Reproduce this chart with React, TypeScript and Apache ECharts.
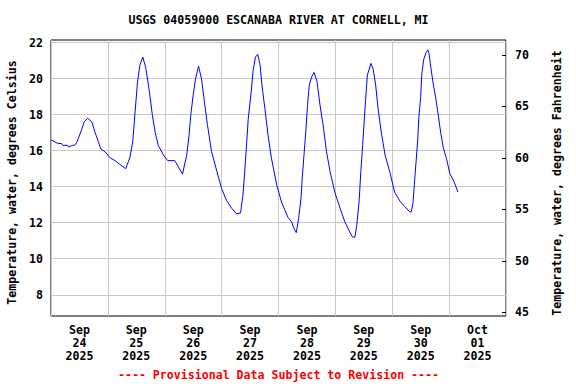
import React, { useEffect, useRef } from "react";
import * as echarts from "echarts";

// Elapsed hours since 2025-09-24 00:00 and water temperature (deg C)
const elapsedHours = [
  0, 3, 4.5, 5, 7, 7.5, 9, 10, 11, 13, 14, 15.5, 17.25, 18.5, 20, 21, 22.75,
  25, 27, 29, 31.5, 33.25, 34.5, 35.5, 36.5, 37.5, 38.75, 40, 41.5, 42.75, 44, 45.25, 47.5,
  49.25, 52.25, 53.75, 55.5, 57.25, 58.25, 59, 60, 61, 62.25, 63.5, 64.75, 66, 67.75, 70,
  72, 74, 76.25, 78.25, 80, 81, 81.75, 82.5, 83.25, 84.5, 85.25, 86.25, 87.25, 88.25, 89,
  90.25, 91.75, 93, 95.25, 97.25, 100, 101.5, 102.5, 103.5, 104.5, 105.5, 106, 106.75,
  107.5, 108.25, 109, 110, 111, 112.25, 113.5, 115, 116.25, 117.75, 119.75, 122, 124, 126,
  127.25, 128.25, 129, 130, 130.75, 131.5, 132.25, 133, 133.5, 135, 136, 137, 138, 139.5,
  141, 143, 145, 147.25, 149.25, 151.5, 152, 152.75, 153.25, 154, 154.75, 155.25, 156,
  156.5, 157.25, 158.25, 159, 159.5, 160.25, 161.25, 162.5, 163.5, 164.5, 165.5, 167,
  168.25, 170, 171.75,
];
const tempC = [
  16.6, 16.4, 16.4, 16.3, 16.3, 16.2, 16.3, 16.3, 16.5, 17.2, 17.6, 17.8, 17.6, 17.05, 16.5, 16.1, 15.95,
  15.6, 15.45, 15.25, 15.0, 15.6, 16.5, 18.2, 19.8, 20.75, 21.2, 20.6, 19.3, 18.0, 17.0, 16.3, 15.75,
  15.45, 15.45, 15.1, 14.7, 15.75, 16.85, 18.0, 19.1, 20.0, 20.7, 20.0, 18.7, 17.45, 15.95, 14.85,
  13.9, 13.25, 12.8, 12.5, 12.55, 13.55, 14.85, 16.3, 17.8, 19.3, 20.4, 21.2, 21.35, 20.75, 19.65,
  18.35, 16.7, 15.6, 14.1, 13.15, 12.3, 12.05, 11.7, 11.45, 12.25, 13.35, 14.45, 15.75,
  17.05, 18.55, 19.65, 20.1, 20.35, 19.85, 18.55, 17.25, 15.95, 14.85, 13.7, 12.8, 12.05, 11.5,
  11.2, 11.2, 11.85, 13.15, 14.85, 16.3, 17.8, 19.3, 20.2, 20.85, 20.5, 19.65, 18.35, 16.9,
  15.75, 14.8, 13.7, 13.2, 12.9, 12.6, 12.6, 13.1, 14.0, 15.3, 16.6, 17.9, 19.0,
  20.3, 21.05, 21.45, 21.6, 21.4, 20.65, 19.75, 18.8, 17.9, 16.95, 16.2, 15.5,
  14.75, 14.3, 13.7,
];

const dayLabels = [
  "Sep\n24\n2025", "Sep\n25\n2025", "Sep\n26\n2025", "Sep\n27\n2025",
  "Sep\n28\n2025", "Sep\n29\n2025", "Sep\n30\n2025", "Oct\n01\n2025",
];
const dayBoundaryHours = [0, 24, 48, 72, 96, 120, 144, 168, 192];
const dayLabelHours = [12, 36, 60, 84, 108, 132, 156, 180];
const celsiusTicks = [8, 10, 12, 14, 16, 18, 20, 22];
const fahrenheitTicks = [45, 50, 55, 60, 65, 70];

const titleText = "USGS 04059000 ESCANABA RIVER AT CORNELL, MI";
const footerText = "---- Provisional Data Subject to Revision ----";
const leftName = "Temperature, water, degrees Celsius";
const rightName = "Temperature, water, degrees Fahrenheit";

const FONT = "'DejaVu Sans Mono', monospace";

export default function App() {
  const ref = useRef<HTMLDivElement>(null);
  useEffect(() => {
    if (!ref.current) return;
    const chart = echarts.init(ref.current, undefined, { renderer: "svg" });
    const seriesData = elapsedHours.map((h, i) => [h, tempC[i]]);
    const labelStyle = {
      fontFamily: FONT,
      fontWeight: "bold" as const,
      fontSize: 11.6,
      color: "#000",
    };
    chart.setOption({
      animation: false,
      backgroundColor: "#fff",
      grid: {
        left: 51,
        right: 70,
        top: 40,
        bottom: 68,
        show: true,
        borderColor: "#000",
        borderWidth: 1,
        backgroundColor: "#fff",
        containLabel: false,
      },
      xAxis: {
        type: "value",
        min: 0,
        max: 192,
        axisLine: { show: false },
        axisTick: { show: false, customValues: dayBoundaryHours },
        splitLine: { show: true, lineStyle: { color: "#c8c8c8", width: 1 } },
        axisLabel: {
          ...labelStyle,
          customValues: dayLabelHours,
          margin: 7,
          lineHeight: 13,
          formatter: (v: number) => {
            const idx = dayLabelHours.indexOf(v);
            return idx >= 0 ? dayLabels[idx] : "";
          },
        },
      },
      yAxis: [
        {
          type: "value",
          position: "left",
          min: 6.82,
          max: 22.15,
          axisLine: { show: false },
          axisTick: { show: false, customValues: celsiusTicks },
          splitLine: { show: true, lineStyle: { color: "#c8c8c8", width: 1 } },
          axisLabel: { ...labelStyle, customValues: celsiusTicks, margin: 8 },
        },
        {
          type: "value",
          position: "right",
          min: 44.63,
          max: 71.46,
          axisLine: { show: false },
          axisTick: {
            show: true,
            inside: true,
            length: 4,
            customValues: fahrenheitTicks,
            lineStyle: { color: "#000", width: 1 },
          },
          splitLine: { show: false },
          axisLabel: { ...labelStyle, customValues: fahrenheitTicks, margin: 9 },
        },
      ],
      series: [
        {
          type: "line",
          data: seriesData,
          xAxisIndex: 0,
          yAxisIndex: 0,
          showSymbol: false,
          symbol: "none",
          lineStyle: { color: "#0000ff", width: 1 },
          silent: true,
        },
      ],
      graphic: [
        {
          type: "text",
          x: 278.5,
          y: 20,
          style: {
            text: titleText,
            fill: "#000",
            font: `bold 11.6px ${FONT}`,
            align: "center",
            verticalAlign: "middle",
          },
        },
        {
          type: "text",
          x: 278.5,
          y: 375,
          style: {
            text: footerText,
            fill: "#ff0000",
            font: `bold 11.6px ${FONT}`,
            align: "center",
            verticalAlign: "middle",
          },
        },
        {
          type: "text",
          x: 11.5,
          y: 182.5,
          rotation: Math.PI / 2,
          style: {
            text: leftName,
            fill: "#000",
            font: `bold 11.6px ${FONT}`,
            align: "center",
            verticalAlign: "middle",
          },
        },
        {
          type: "text",
          x: 556.5,
          y: 183,
          rotation: Math.PI / 2,
          style: {
            text: rightName,
            fill: "#000",
            font: `bold 11.6px ${FONT}`,
            align: "center",
            verticalAlign: "middle",
          },
        },
      ],
    });
    return () => chart.dispose();
  }, []);
  return (
    <div
      ref={ref}
      style={{ position: "fixed", left: 0, top: 0, width: 576, height: 384 }}
    />
  );
}
